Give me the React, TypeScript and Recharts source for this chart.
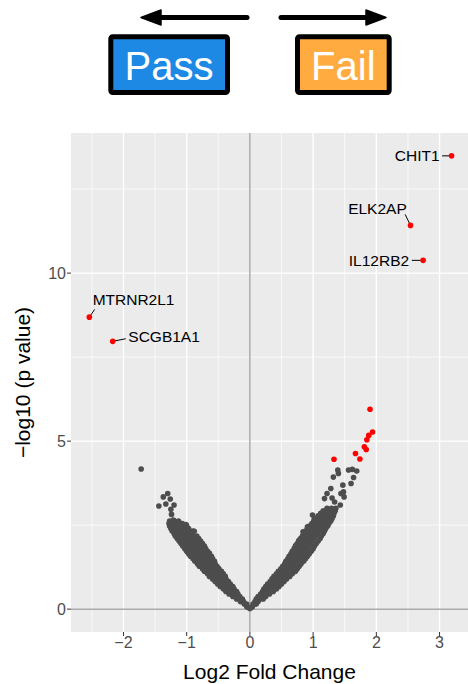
import {
  CartesianGrid,
  ReferenceLine,
  Scatter,
  ScatterChart,
  XAxis,
  YAxis,
} from "recharts";

const FONT = "'Liberation Sans', Arial, Helvetica, sans-serif";

const xTicks = [-2, -1, 0, 1, 2, 3];
const yTicks = [0, 5, 10];
const xMinor = [-2.5, -1.5, -0.5, 0.5, 1.5, 2.5];
const yMinor = [2.5, 7.5, 12.5];

// labelled genes
const geneNames = ["CHIT1", "ELK2AP", "IL12RB2", "MTRNR2L1", "SCGB1A1"];
const geneLfc = [3.19, 2.54, 2.74, -2.54, -2.17];
const geneLogP = [13.49, 11.42, 10.38, 8.69, 7.97];

// other significant genes (red, unlabelled)
const sigLfc = [1.9, 1.94, 1.88, 1.85, 1.81, 1.84, 1.67, 1.74, 1.33];
const sigLogP = [5.95, 5.27, 5.17, 5.04, 4.83, 4.75, 4.63, 4.47, 4.46];

// non-significant genes, left arm of the V
const leftArm: [number, number][] = [
  [0.0, 0.02], [-0.02, 0.05], [-0.05, 0.075],
  [-0.09, 0.15], [-0.05, 0.15],
  [-0.15, 0.225], [-0.1, 0.225],
  [-0.21, 0.3], [-0.16, 0.3], [-0.12, 0.3],
  [-0.27, 0.375], [-0.21, 0.375], [-0.16, 0.375],
  [-0.33, 0.45], [-0.26, 0.45], [-0.19, 0.45],
  [-0.38, 0.525], [-0.31, 0.525], [-0.24, 0.525], [-0.21, 0.525],
  [-0.42, 0.6], [-0.35, 0.6], [-0.28, 0.6], [-0.25, 0.6],
  [-0.47, 0.675], [-0.4, 0.675], [-0.33, 0.675], [-0.27, 0.675],
  [-0.51, 0.75], [-0.44, 0.75], [-0.37, 0.75], [-0.31, 0.75],
  [-0.55, 0.825], [-0.48, 0.825], [-0.41, 0.825], [-0.34, 0.825],
  [-0.59, 0.9], [-0.52, 0.9], [-0.45, 0.9], [-0.38, 0.9],
  [-0.64, 0.975], [-0.57, 0.975], [-0.5, 0.975], [-0.43, 0.975], [-0.39, 0.975],
  [-0.67, 1.05], [-0.6, 1.05], [-0.53, 1.05], [-0.46, 1.05], [-0.42, 1.05],
  [-0.72, 1.125], [-0.65, 1.125], [-0.58, 1.125], [-0.51, 1.125], [-0.45, 1.125],
  [-0.75, 1.2], [-0.68, 1.2], [-0.61, 1.2], [-0.54, 1.2], [-0.49, 1.2],
  [-0.8, 1.275], [-0.73, 1.275], [-0.66, 1.275], [-0.59, 1.275], [-0.52, 1.275],
  [-0.83, 1.35], [-0.76, 1.35], [-0.69, 1.35], [-0.62, 1.35], [-0.55, 1.35],
  [-0.87, 1.425], [-0.8, 1.425], [-0.73, 1.425], [-0.66, 1.425], [-0.59, 1.425], [-0.56, 1.425],
  [-0.9, 1.5], [-0.83, 1.5], [-0.76, 1.5], [-0.69, 1.5], [-0.62, 1.5], [-0.59, 1.5],
  [-0.94, 1.575], [-0.87, 1.575], [-0.8, 1.575], [-0.73, 1.575], [-0.66, 1.575], [-0.61, 1.575],
  [-0.97, 1.65], [-0.9, 1.65], [-0.83, 1.65], [-0.76, 1.65], [-0.69, 1.65], [-0.65, 1.65],
  [-1.0, 1.725], [-0.93, 1.725], [-0.86, 1.725], [-0.79, 1.725], [-0.72, 1.725], [-0.67, 1.725],
  [-1.03, 1.8], [-0.96, 1.8], [-0.89, 1.8], [-0.82, 1.8], [-0.75, 1.8], [-0.7, 1.8],
  [-1.06, 1.875], [-0.99, 1.875], [-0.92, 1.875], [-0.85, 1.875], [-0.78, 1.875], [-0.72, 1.875],
  [-1.09, 1.95], [-1.02, 1.95], [-0.95, 1.95], [-0.88, 1.95], [-0.81, 1.95], [-0.75, 1.95],
  [-1.12, 2.025], [-1.05, 2.025], [-0.98, 2.025], [-0.91, 2.025], [-0.84, 2.025], [-0.78, 2.025],
  [-1.15, 2.1], [-1.08, 2.1], [-1.01, 2.1], [-0.94, 2.1], [-0.87, 2.1], [-0.81, 2.1],
  [-1.18, 2.175], [-1.11, 2.175], [-1.04, 2.175], [-0.97, 2.175], [-0.9, 2.175], [-0.84, 2.175],
  [-1.2, 2.25], [-1.13, 2.25], [-1.06, 2.25], [-0.99, 2.25], [-0.92, 2.25],
  [-1.23, 2.325], [-1.16, 2.325], [-1.09, 2.325], [-1.02, 2.325], [-0.95, 2.325], [-0.9, 2.325],
  [-1.25, 2.4], [-1.18, 2.4], [-1.11, 2.4], [-1.04, 2.4], [-0.97, 2.4],
  [-1.27, 2.475], [-1.2, 2.475], [-1.13, 2.475], [-1.06, 2.475], [-1.0, 2.475],
  [-1.28, 2.55], [-1.21, 2.55], [-1.14, 2.55], [-1.07, 2.55],
  [-1.27, 2.625], [-1.2, 2.625], [-1.13, 2.625],
  [-1.72, 4.17], [-1.3, 3.44], [-1.37, 3.34], [-1.26, 3.28], [-1.44, 3.07],
  [-1.33, 3.13], [-1.2, 3.1], [-1.25, 2.97], [-1.24, 2.82], [-1.21, 2.65],
  [-1.12, 2.58], [-1.01, 2.52], [-0.88, 2.32], [-0.92, 2.25], [-0.79, 2.0],
  [-0.61, 1.56], [-0.64, 1.66], [-0.5, 1.21], [-0.37, 0.86],
];

// non-significant genes, right arm of the V
const rightArm: [number, number][] = [
  [0.02, 0.05], [0.04, 0.075],
  [0.05, 0.15], [0.1, 0.15],
  [0.08, 0.225], [0.13, 0.225],
  [0.1, 0.3], [0.16, 0.3], [0.21, 0.3],
  [0.13, 0.375], [0.19, 0.375], [0.25, 0.375],
  [0.17, 0.45], [0.24, 0.45], [0.31, 0.45],
  [0.2, 0.525], [0.26, 0.525], [0.33, 0.525], [0.37, 0.525],
  [0.22, 0.6], [0.29, 0.6], [0.36, 0.6], [0.42, 0.6],
  [0.25, 0.675], [0.32, 0.675], [0.39, 0.675], [0.46, 0.675],
  [0.28, 0.75], [0.35, 0.75], [0.42, 0.75], [0.5, 0.75],
  [0.32, 0.825], [0.39, 0.825], [0.46, 0.825], [0.54, 0.825],
  [0.35, 0.9], [0.42, 0.9], [0.49, 0.9], [0.58, 0.9],
  [0.38, 0.975], [0.45, 0.975], [0.52, 0.975], [0.59, 0.975], [0.63, 0.975],
  [0.42, 1.05], [0.49, 1.05], [0.56, 1.05], [0.63, 1.05], [0.67, 1.05],
  [0.45, 1.125], [0.52, 1.125], [0.59, 1.125], [0.66, 1.125], [0.72, 1.125],
  [0.49, 1.2], [0.56, 1.2], [0.63, 1.2], [0.7, 1.2], [0.75, 1.2],
  [0.52, 1.275], [0.59, 1.275], [0.66, 1.275], [0.73, 1.275], [0.78, 1.275],
  [0.55, 1.35], [0.62, 1.35], [0.69, 1.35], [0.76, 1.35], [0.81, 1.35],
  [0.57, 1.425], [0.64, 1.425], [0.71, 1.425], [0.78, 1.425], [0.85, 1.425],
  [0.6, 1.5], [0.67, 1.5], [0.74, 1.5], [0.81, 1.5], [0.88, 1.5],
  [0.62, 1.575], [0.69, 1.575], [0.76, 1.575], [0.83, 1.575], [0.91, 1.575],
  [0.65, 1.65], [0.72, 1.65], [0.79, 1.65], [0.86, 1.65], [0.94, 1.65],
  [0.67, 1.725], [0.74, 1.725], [0.81, 1.725], [0.88, 1.725], [0.97, 1.725],
  [0.7, 1.8], [0.77, 1.8], [0.84, 1.8], [0.91, 1.8], [1.0, 1.8],
  [0.72, 1.875], [0.79, 1.875], [0.86, 1.875], [0.93, 1.875], [1.02, 1.875],
  [0.75, 1.95], [0.82, 1.95], [0.89, 1.95], [0.96, 1.95], [1.05, 1.95],
  [0.77, 2.025], [0.84, 2.025], [0.91, 2.025], [0.98, 2.025], [1.08, 2.025],
  [0.8, 2.1], [0.87, 2.1], [0.94, 2.1], [1.01, 2.1], [1.11, 2.1],
  [0.83, 2.175], [0.9, 2.175], [0.97, 2.175], [1.04, 2.175], [1.13, 2.175],
  [0.86, 2.25], [0.93, 2.25], [1.0, 2.25], [1.07, 2.25], [1.16, 2.25],
  [0.88, 2.325], [0.95, 2.325], [1.02, 2.325], [1.09, 2.325], [1.18, 2.325],
  [0.91, 2.4], [0.98, 2.4], [1.05, 2.4], [1.12, 2.4], [1.2, 2.4],
  [0.94, 2.475], [1.01, 2.475], [1.08, 2.475], [1.15, 2.475], [1.23, 2.475],
  [0.98, 2.55], [1.05, 2.55], [1.12, 2.55], [1.19, 2.55], [1.25, 2.55],
  [1.01, 2.625], [1.08, 2.625], [1.15, 2.625], [1.22, 2.625], [1.28, 2.625],
  [1.05, 2.7], [1.12, 2.7], [1.19, 2.7], [1.26, 2.7], [1.3, 2.7],
  [1.08, 2.775], [1.15, 2.775], [1.22, 2.775], [1.29, 2.775], [1.32, 2.775],
  [1.12, 2.85], [1.19, 2.85], [1.26, 2.85], [1.33, 2.85],
  [1.16, 2.925], [1.23, 2.925], [1.3, 2.925], [1.35, 2.925],
  [1.22, 3.0], [1.29, 3.0], [1.36, 3.0],
  [1.39, 4.14], [1.4, 4.04], [1.32, 3.93], [1.56, 4.14], [1.62, 4.16],
  [1.69, 4.11], [1.64, 3.92], [1.6, 3.74], [1.47, 3.69], [1.48, 3.49],
  [1.28, 3.59], [1.22, 3.44], [1.44, 3.44], [1.18, 3.29], [1.3, 3.31],
  [1.49, 3.34], [1.34, 3.19], [1.43, 3.1], [1.27, 2.95], [0.99, 2.8],
  [1.02, 2.7], [0.91, 2.45], [0.84, 2.3], [0.78, 2.05], [0.73, 1.9],
  [0.68, 1.71], [0.57, 1.41],
];

// where the repelled labels sit, in pixels from their point
const labelPlacement: Record<string, { dx: number; dy: number; anchor: string; sx: number; sy: number }> = {
  CHIT1: { dx: -12, dy: 5, anchor: "end", sx: -9.5, sy: 0 },
  ELK2AP: { dx: -33, dy: -11.3, anchor: "middle", sx: -5.3, sy: -11 },
  IL12RB2: { dx: -14, dy: 5.4, anchor: "end", sx: -11.3, sy: 0 },
  MTRNR2L1: { dx: 3.3, dy: -12, anchor: "start", sx: 5.3, sy: -7.7 },
  SCGB1A1: { dx: 15.6, dy: 1, anchor: "start", sx: 13, sy: -2.6 },
};

const nsData = [...leftArm, ...rightArm].map(([lfc, logp]) => ({ lfc, logp }));
const sigData = sigLfc.map((lfc, i) => ({ lfc, logp: sigLogP[i] }));
const geneData = geneNames.map((name, i) => ({ name, lfc: geneLfc[i], logp: geneLogP[i] }));

const fmt = (v: number) => (v < 0 ? `\u2212${-v}` : `${v}`);

const dot = (fill: string) => (p: any) => <circle cx={p.cx} cy={p.cy} r={2.8} fill={fill} />;

const labelledDot = (p: any) => {
  const lp = labelPlacement[p.payload.name];
  return (
    <g>
      <line x1={p.cx} y1={p.cy} x2={p.cx + lp.sx} y2={p.cy + lp.sy} stroke="#000" strokeWidth={1} />
      <circle cx={p.cx} cy={p.cy} r={2.8} fill="#FF0000" />
      <text x={p.cx + lp.dx} y={p.cy + lp.dy} textAnchor={lp.anchor} fontSize={15.5} fill="#000" fontFamily={FONT}>
        {p.payload.name}
      </text>
    </g>
  );
};

const YTitle = (p: any) => {
  const vb = p.viewBox;
  const cx = vb.x + 22;
  const cy = vb.y + vb.height / 2;
  return (
    <text x={cx} y={cy} transform={`rotate(-90 ${cx} ${cy})`} textAnchor="middle" dominantBaseline="central" fontSize={21} fill="#000" fontFamily={FONT}>
      {"\u2212log10 (p value)"}
    </text>
  );
};

function Header() {
  return (
    <svg width={468} height={110} style={{ position: "absolute", left: 0, top: 0 }}>
      <line x1={247} y1={17.5} x2={156} y2={17.5} stroke="#000" strokeWidth={5} strokeLinecap="round" />
      <polygon points="141,17.5 161,10 161,25" fill="#000" stroke="#000" strokeWidth={1.5} strokeLinejoin="round" />
      <line x1={281} y1={17.5} x2={372} y2={17.5} stroke="#000" strokeWidth={5} strokeLinecap="round" />
      <polygon points="386,17.5 366,10 366,25" fill="#000" stroke="#000" strokeWidth={1.5} strokeLinejoin="round" />
      <rect x={110.8} y={36.8} width={116.7} height={55.7} rx={2} fill="#1E88E5" stroke="#000" strokeWidth={5} />
      <text x={169} y={79.5} textAnchor="middle" fontSize={40} fill="#fff" fontFamily={FONT}>Pass</text>
      <rect x={297.5} y={36.8} width={91.7} height={55.7} rx={2} fill="#FFAB40" stroke="#000" strokeWidth={5} />
      <text x={343.3} y={79.5} textAnchor="middle" fontSize={40} fill="#fff" fontFamily={FONT}>Fail</text>
    </svg>
  );
}

export default function App() {
  return (
    <div style={{ position: "absolute", left: 0, top: 0, width: 468, height: 684, background: "#fff", fontFamily: FONT }}>
      <ScatterChart width={468} height={684} margin={{ top: 133, right: 0, bottom: 0, left: 0 }} style={{ fontFamily: FONT }}>
        <CartesianGrid horizontalValues={yMinor} verticalValues={xMinor} stroke="#fff" strokeWidth={0.7} fill="#EBEBEB" />
        <CartesianGrid horizontalValues={yTicks} verticalValues={xTicks} stroke="#fff" strokeWidth={1.4} />
        <XAxis
          type="number"
          dataKey="lfc"
          domain={[-2.83, 3.45]}
          ticks={xTicks}
          allowDataOverflow
          height={52}
          axisLine={false}
          tickSize={4}
          tickMargin={1}
          tickLine={{ stroke: "#333" }}
          tick={{ fill: "#4D4D4D", fontSize: 16 }}
          tickFormatter={fmt}
          label={{ value: "Log2 Fold Change", position: "insideBottom", offset: 5, fontSize: 21, fill: "#000" }}
        />
        <YAxis
          type="number"
          dataKey="logp"
          domain={[-0.68, 14.17]}
          ticks={yTicks}
          allowDataOverflow
          width={71}
          axisLine={false}
          tickSize={4}
          tickMargin={1}
          tickLine={{ stroke: "#333" }}
          tick={{ fill: "#4D4D4D", fontSize: 16 }}
          tickFormatter={fmt}
          label={{ content: YTitle }}
        />
        <ReferenceLine x={0} stroke="#808080" strokeWidth={1} />
        <ReferenceLine y={0} stroke="#808080" strokeWidth={1} />
        <Scatter data={nsData} shape={dot("#4D4D4D")} isAnimationActive={false} />
        <Scatter data={sigData} shape={dot("#FF0000")} isAnimationActive={false} />
        <Scatter data={geneData} shape={labelledDot} isAnimationActive={false} />
      </ScatterChart>
      <Header />
    </div>
  );
}
